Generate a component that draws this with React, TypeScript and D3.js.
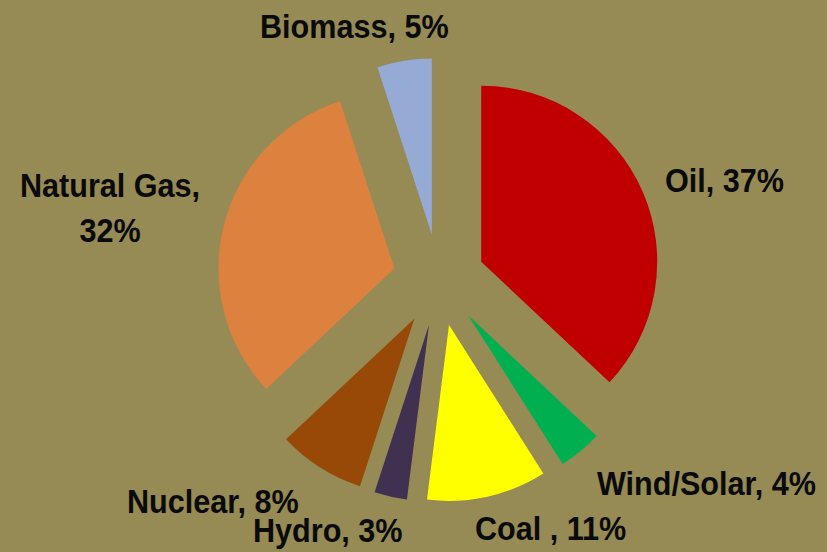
import React from "react";
import * as d3 from "d3";

const categories = ["Oil", "Wind/Solar", "Coal", "Hydro", "Nuclear", "Natural Gas", "Biomass"];
const shares = [37, 4, 11, 3, 8, 32, 5];
const labelLines = [
  ["Oil, 37%"],
  ["Wind/Solar, 4%"],
  ["Coal , 11%"],
  ["Hydro, 3%"],
  ["Nuclear, 8%"],
  ["Natural Gas,", "32%"],
  ["Biomass, 5%"],
];

const colors = ["#C00000", "#00B050", "#FFFF00", "#403151", "#984807", "#DD823E", "#95AAD5"];
// label layout: x, baseline y, anchor
const labelLayout: [number, number, string][] = [
  [665, 192, "start"],
  [597, 495, "start"],
  [475, 540, "start"],
  [253, 542, "start"],
  [127, 513, "start"],
  [110, 197, "middle"],
  [260, 38, "start"],
];

const W = 827;
const H = 552;
const CX = 439;
const CY = 280;
const R = 176;
const EXPLODE = 46;
const FONT = 34;
const SX = 0.9;

export default function App() {
  const pie = d3.pie<number>().sort(null).value((d) => d)(shares);
  const arc = d3.arc<d3.PieArcDatum<number>>().innerRadius(0).outerRadius(R);
  return (
    <svg
      width={W}
      height={H}
      style={{ position: "absolute", left: 0, top: 0, display: "block" }}
    >
      <rect x={0} y={0} width={W} height={H} fill="#968A55" />
      <g transform={`translate(${CX},${CY})`}>
        {pie.map((p, i) => {
          const mid = (p.startAngle + p.endAngle) / 2;
          const dx = Math.sin(mid) * EXPLODE;
          const dy = -Math.cos(mid) * EXPLODE;
          return (
            <path
              key={categories[i]}
              d={arc(p) || ""}
              fill={colors[i]}
              transform={`translate(${dx},${dy})`}
            />
          );
        })}
      </g>
      {labelLines.map((lines, i) => {
        const [x, y, anchor] = labelLayout[i];
        return (
          <g key={categories[i]} transform={`translate(${x},${y}) scale(${SX},1)`}>
            {lines.map((t, j) => (
              <text
                key={j}
                x={0}
                y={j * 45}
                textAnchor={anchor as any}
                fontFamily="'Liberation Sans', Arial, sans-serif"
                fontWeight="bold"
                fontSize={FONT}
                fill="#0A0A0A"
              >
                {t}
              </text>
            ))}
          </g>
        );
      })}
    </svg>
  );
}
